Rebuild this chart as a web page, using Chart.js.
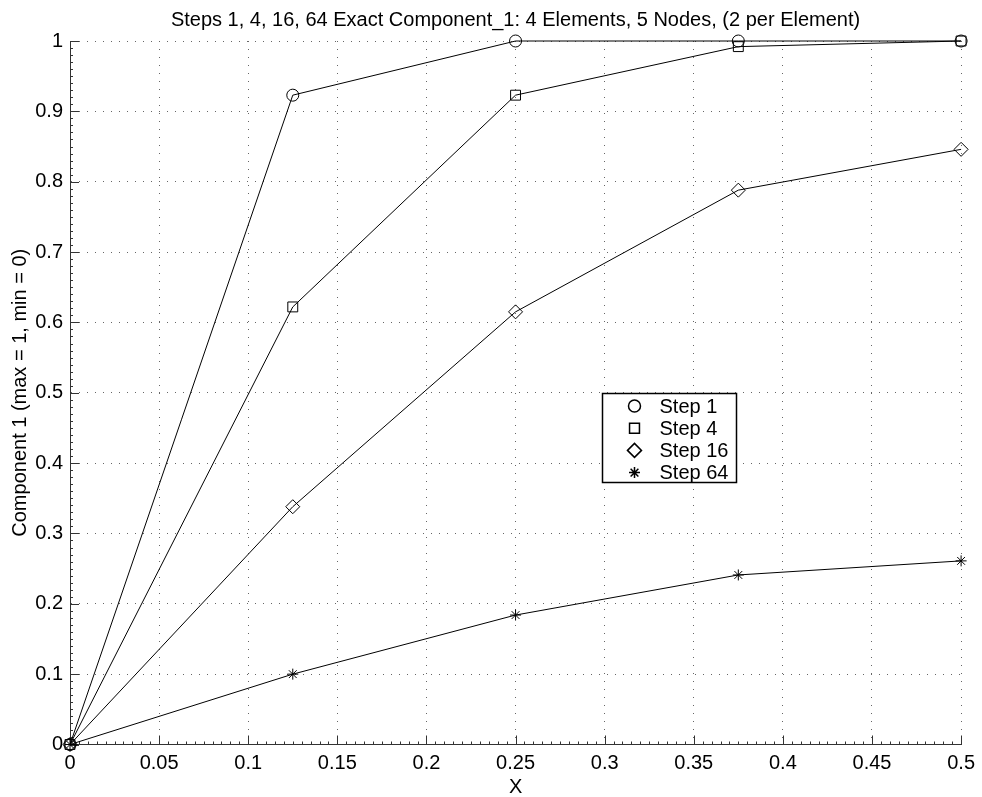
<!DOCTYPE html>
<html>
<head>
<meta charset="utf-8">
<title>Steps 1, 4, 16, 64 Exact Component_1</title>
<script src="https://cdn.jsdelivr.net/npm/chart.js@4.4.1/dist/chart.umd.min.js"></script>
<style>
  html, body { margin: 0; padding: 0; background: #fff; }
  #wrap { width: 982px; height: 797px; }
</style>
</head>
<body>
<div id="wrap"><canvas id="chart" width="982" height="797"></canvas></div>
<script>
// --- Data
var xNodes = [0, 0.125, 0.25, 0.375, 0.5];
var step1 = [0, 0.923, 1.0, 1.0, 1.0];
var step4 = [0, 0.622, 0.923, 0.992, 1.0];
var step16 = [0, 0.338, 0.615, 0.788, 0.846];
var step64 = [0, 0.1, 0.184, 0.241, 0.261];
var seriesLabels = ["Step 1", "Step 4", "Step 16", "Step 64"];

var xTickLabels = ["0", "0.05", "0.1", "0.15", "0.2", "0.25", "0.3", "0.35", "0.4", "0.45", "0.5"];
var yTickLabels = ["0", "0.1", "0.2", "0.3", "0.4", "0.5", "0.6", "0.7", "0.8", "0.9", "1"];

var FONT = "'Liberation Sans', Arial, Helvetica, sans-serif";
var AXIS_COLOR = "#333";

function points(ys) {
  return xNodes.map(function (x, i) { return { x: x, y: ys[i] }; });
}

function series(label, ys, style, radius) {
  return {
    label: label,
    data: points(ys),
    showLine: true,
    borderColor: "#000",
    borderWidth: 1,
    backgroundColor: "rgba(0,0,0,0)",
    pointStyle: style,
    pointRadius: radius,
    pointHoverRadius: radius,
    pointBorderColor: "#000",
    pointBackgroundColor: "rgba(0,0,0,0)",
    pointBorderWidth: 1,
    clip: false
  };
}

// --- Inward major/minor ticks like the original plot
var inwardTicks = {
  id: "inwardTicks",
  beforeDatasetsDraw: function (chart) {
    var ctx = chart.ctx;
    var xs = chart.scales.x, ys = chart.scales.y;
    var area = chart.chartArea;
    ctx.save();
    ctx.strokeStyle = AXIS_COLOR;
    ctx.lineWidth = 1;
    ctx.beginPath();
    var n = Math.round((xs.max - xs.min) / 0.005);
    for (var i = 0; i <= n; i++) {
      var px = Math.round(xs.getPixelForValue(xs.min + i * 0.005)) + 0.5;
      var len = i % 10 === 0 ? 9 : 3;
      ctx.moveTo(px, area.bottom);
      ctx.lineTo(px, area.bottom - len);
    }
    var m = Math.round((ys.max - ys.min) / 0.01);
    for (var j = 0; j <= m; j++) {
      var py = Math.round(ys.getPixelForValue(ys.min + j * 0.01)) + 0.5;
      var l = j % 10 === 0 ? 9 : 3;
      ctx.moveTo(area.left, py);
      ctx.lineTo(area.left + l, py);
    }
    ctx.stroke();
    ctx.restore();
  }
};

// --- Boxed legend placed inside the axes
var boxLegend = {
  id: "boxLegend",
  afterDraw: function (chart, args, opts) {
    var ctx = chart.ctx;
    var a = chart.chartArea;
    var left = Math.round(a.left + opts.x * (a.right - a.left)) + 0.5;
    var top = Math.round(a.top + opts.y * (a.bottom - a.top)) + 0.5;
    ctx.save();
    ctx.fillStyle = "#fff";
    ctx.fillRect(left, top, opts.width, opts.height);
    ctx.strokeStyle = "#000";
    ctx.lineWidth = 1.5;
    ctx.strokeRect(left, top, opts.width, opts.height);
    ctx.font = "20px " + FONT;
    ctx.textBaseline = "middle";
    ctx.textAlign = "left";
    chart.data.datasets.forEach(function (ds, i) {
      var cy = top + opts.rowTop + i * opts.rowHeight;
      ctx.strokeStyle = "#000";
      ctx.fillStyle = "rgba(0,0,0,0)";
      Chart.helpers.drawPoint(ctx, {
        pointStyle: ds.pointStyle,
        radius: ds.pointRadius,
        borderWidth: 1,
        rotation: 0
      }, left + opts.markerX, cy);
      ctx.fillStyle = "#000";
      ctx.fillText(ds.label, left + opts.textX, cy + 1);
    });
    ctx.restore();
  }
};

var ctx = document.getElementById("chart");
new Chart(ctx, {
  type: "scatter",
  data: {
    datasets: [
      series(seriesLabels[0], step1, "circle", 6),
      series(seriesLabels[1], step4, "rect", 7),
      series(seriesLabels[2], step16, "rectRot", 7),
      series(seriesLabels[3], step64, "star", 5.5)
    ]
  },
  options: {
    responsive: false,
    animation: false,
    layout: { padding: { left: 0, right: 18, top: 0, bottom: 0 } },
    plugins: {
      legend: { display: false },
      tooltip: { enabled: false },
      title: {
        display: true,
        fullSize: false,
        text: "Steps 1, 4, 16, 64 Exact Component_1: 4 Elements, 5 Nodes, (2 per Element)",
        color: "#000",
        font: { family: FONT, size: 20, weight: "normal", lineHeight: 1.2 },
        padding: { top: 8, bottom: 9 }
      },
      boxLegend: {
        x: 0.5966, y: 0.4999, width: 134, height: 89,
        markerX: 32, textX: 57, rowTop: 12.5, rowHeight: 22.2
      }
    },
    scales: {
      x: {
        type: "linear",
        min: 0,
        max: 0.5,
        afterFit: function (s) { s.height = 52.5; },
        afterBuildTicks: function (s) {
          s.ticks = xTickLabels.map(function (t) { return { value: parseFloat(t) }; });
        },
        ticks: {
          color: "#000",
          padding: 7,
          maxRotation: 0,
          font: { family: FONT, size: 20 },
          callback: function (v, i) { return xTickLabels[i]; }
        },
        grid: { color: "#666", drawTicks: false },
        border: { display: true, color: AXIS_COLOR, width: 1, dash: [1, 7] },
        title: {
          display: true,
          text: "X",
          color: "#000",
          font: { family: FONT, size: 20, lineHeight: 1 },
          padding: { top: 0, bottom: 0 }
        }
      },
      y: {
        type: "linear",
        min: 0,
        max: 1,
        afterFit: function (s) { s.width = 70; },
        afterBuildTicks: function (s) {
          s.ticks = yTickLabels.map(function (t) { return { value: parseFloat(t) }; });
        },
        ticks: {
          color: "#000",
          padding: 7,
          font: { family: FONT, size: 20 },
          callback: function (v, i) { return yTickLabels[i]; }
        },
        grid: { color: "#666", drawTicks: false },
        border: { display: true, color: AXIS_COLOR, width: 1, dash: [1, 7] },
        title: {
          display: true,
          text: "Component 1 (max = 1, min = 0)",
          color: "#000",
          font: { family: FONT, size: 20 },
          padding: { top: 8, bottom: 0 }
        }
      }
    }
  },
  plugins: [inwardTicks, boxLegend]
});
</script>
</body>
</html>
